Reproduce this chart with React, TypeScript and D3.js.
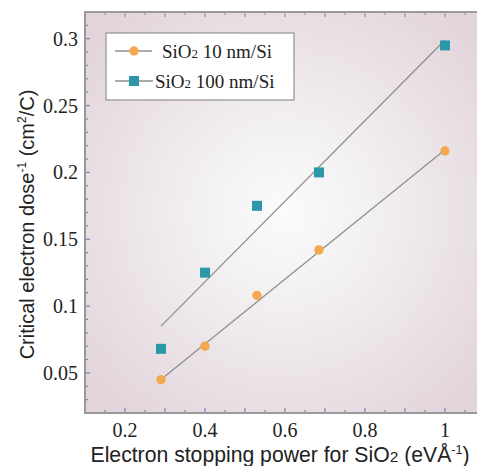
import React from 'react';
import * as d3 from 'd3';

const stopping = [0.29, 0.40, 0.53, 0.685, 1.0];
const dose10 = [0.045, 0.070, 0.108, 0.142, 0.216];
const dose100 = [0.068, 0.125, 0.175, 0.200, 0.295];
const fit10 = [[0.29, 0.045], [1.0, 0.217]];
const fit100 = [[0.29, 0.085], [1.0, 0.299]];
const xTickLabels = [0.2, 0.4, 0.6, 0.8, 1];
const yTickLabels = [0.05, 0.1, 0.15, 0.2, 0.25, 0.3];

const W = 477;
const H = 466;
const left = 85;
const right = 485;
const top = 12;
const bottom = 413;

export default function App() {
  const x = d3.scaleLinear().domain([0.1, 1.1]).range([left, right]);
  const y = d3.scaleLinear().domain([0.02, 0.32]).range([bottom, top]);
  const line = d3.line<number[]>().x(d => x(d[0])).y(d => y(d[1]));

  const xMinor = d3.range(0.15, 1.1, 0.05);
  const yMinor = d3.range(0.03, 0.32, 0.01);
  const isMajorX = (v: number) => Math.abs(v * 10 - Math.round(v * 10)) < 1e-6;
  const isMajorY = (v: number) => Math.abs(v * 20 - Math.round(v * 20)) < 1e-6;

  const tickBlue = '#7486b8';
  const serif = "'Liberation Serif', 'Times New Roman', serif";
  const sans = "'Liberation Sans', Arial, sans-serif";

  return (
    <svg width={W} height={H} style={{ position: 'absolute', left: 0, top: 0 }}>
      <defs>
        <radialGradient id="bg" cx={(left + right) / 2} cy={(top + bottom) / 2} r={260} gradientUnits="userSpaceOnUse">
          <stop offset="0" stopColor="#fbfbfb" />
          <stop offset="0.35" stopColor="#f2eff1" />
          <stop offset="1" stopColor="#e2d4da" />
        </radialGradient>
      </defs>
      <rect x={left} y={top} width={right - left} height={bottom - top} fill="url(#bg)" />

      {/* fits */}
      <path d={line(fit10) || ''} fill="none" stroke="#8f8f8f" strokeWidth={1.3} />
      <path d={line(fit100) || ''} fill="none" stroke="#8f8f8f" strokeWidth={1.3} />

      {/* points */}
      {stopping.map((s, i) => (
        <circle key={'c' + i} cx={x(s)} cy={y(dose10[i])} r={4.7} fill="#f4a94f" />
      ))}
      {stopping.map((s, i) => (
        <rect key={'s' + i} x={x(s) - 5} y={y(dose100[i]) - 5} width={10} height={10} fill="#2a98a9" />
      ))}

      {/* ticks */}
      {xMinor.map((v, i) => {
        const len = isMajorX(v) ? 5 : 3;
        return (
          <g key={'xt' + i}>
            <line x1={x(v)} x2={x(v)} y1={bottom} y2={bottom - len} stroke={tickBlue} strokeWidth={1.2} />
            <line x1={x(v)} x2={x(v)} y1={top} y2={top + len} stroke="#999" strokeWidth={1.2} />
          </g>
        );
      })}
      {yMinor.map((v, i) => {
        const len = isMajorY(v) ? 5 : 3;
        return <line key={'yt' + i} x1={left} x2={left + len} y1={y(v)} y2={y(v)} stroke={tickBlue} strokeWidth={1.2} />;
      })}

      {/* frame */}
      <rect x={left} y={top} width={right - left} height={bottom - top} fill="none" stroke="#9a9a9a" strokeWidth={2} />

      {/* tick labels */}
      {xTickLabels.map(v => (
        <text key={'xl' + v} x={x(v)} y={437} textAnchor="middle" style={{ fontFamily: serif }} fontSize={20} fill="#222">{v}</text>
      ))}
      {yTickLabels.map(v => (
        <text key={'yl' + v} x={78} y={y(v) + 7} textAnchor="end" style={{ fontFamily: serif }} fontSize={20} fill="#222">{v}</text>
      ))}

      {/* axis titles */}
      <text x={280} y={462} textAnchor="middle" style={{ fontFamily: sans }} fontSize={21.2} fill="#222">
        Electron stopping power for SiO<tspan fontSize={15.5}>2</tspan> (eVÅ<tspan fontSize={12.5} dy={-8}>-1</tspan><tspan dy={8}>)</tspan>
      </text>
      <text transform={`translate(34, ${(top + bottom) / 2 + 12}) rotate(-90)`} textAnchor="middle" style={{ fontFamily: sans }} fontSize={20} fill="#222">
        Critical electron dose<tspan fontSize={12} dy={-8}>-1</tspan><tspan dy={8}> (cm</tspan><tspan fontSize={12} dy={-8}>2</tspan><tspan dy={8}>/C)</tspan>
      </text>

      {/* legend */}
      <rect x={106} y={33} width={188} height={67} fill="#fff" stroke="#999" strokeWidth={1.3} />
      <line x1={115} x2={152} y1={51} y2={51} stroke="#8f8f8f" strokeWidth={1.3} />
      <circle cx={134} cy={51} r={4.7} fill="#f4a94f" />
      <text x={162} y={58} style={{ fontFamily: serif }} fontSize={19} fill="#222">
        SiO<tspan fontSize={13}>2</tspan> 10 nm/Si
      </text>
      <line x1={115} x2={153} y1={81} y2={81} stroke="#8f8f8f" strokeWidth={1.3} />
      <rect x={129} y={76} width={10} height={10} fill="#2a98a9" />
      <text x={155} y={88} style={{ fontFamily: serif }} fontSize={19} fill="#222">
        SiO<tspan fontSize={13}>2</tspan> 100 nm/Si
      </text>
    </svg>
  );
}
